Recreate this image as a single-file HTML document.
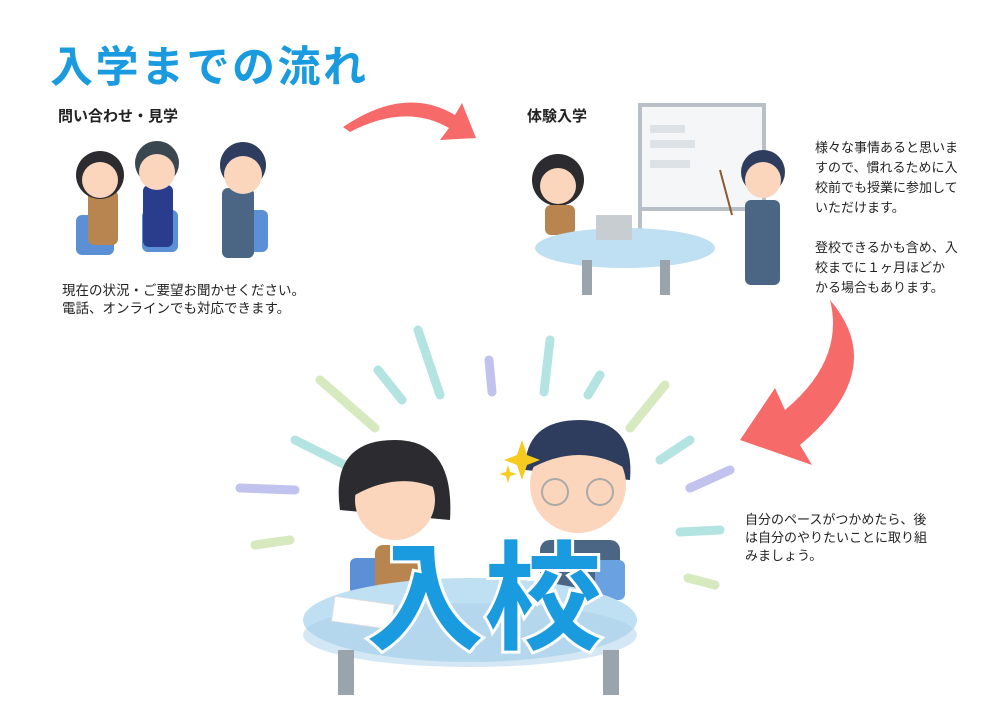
<!DOCTYPE html>
<html><head><meta charset="utf-8"><style>
html,body{margin:0;padding:0;background:#fff;width:1000px;height:707px;overflow:hidden}
.t{position:absolute;font-family:"Liberation Sans","Noto Sans CJK JP",sans-serif;color:#222;white-space:nowrap}
</style></head><body>
<svg width="1000" height="707" style="position:absolute;left:0;top:0">
<g stroke-linecap="round" stroke-width="9" opacity="0.85">
<line x1="418" y1="330" x2="440" y2="395" stroke="#a8e0dc"/>
<line x1="378" y1="370" x2="402" y2="400" stroke="#a8e0dc"/>
<line x1="320" y1="380" x2="375" y2="428" stroke="#cfe6b5"/>
<line x1="295" y1="440" x2="345" y2="465" stroke="#a8e0dc"/>
<line x1="240" y1="488" x2="295" y2="490" stroke="#b8b8ec"/>
<line x1="255" y1="545" x2="290" y2="540" stroke="#cfe6b5"/>
<line x1="489" y1="360" x2="492" y2="392" stroke="#b8b8ec"/>
<line x1="550" y1="340" x2="544" y2="392" stroke="#a8e0dc"/>
<line x1="600" y1="375" x2="588" y2="395" stroke="#a8e0dc"/>
<line x1="665" y1="385" x2="630" y2="428" stroke="#cfe6b5"/>
<line x1="690" y1="440" x2="660" y2="460" stroke="#a8e0dc"/>
<line x1="730" y1="470" x2="690" y2="488" stroke="#b8b8ec"/>
<line x1="720" y1="530" x2="680" y2="532" stroke="#a8e0dc"/>
<line x1="715" y1="585" x2="688" y2="578" stroke="#cfe6b5"/>
</g>
<path d="M343 127 Q405 85 455 115 L462 103 L476 138 L440 140 L449 128 Q405 103 350 132 Z" fill="#f76a6a"/>
<path d="M830 300 Q890 370 800 445 L812 465 L740 440 L775 388 L785 410 Q845 360 830 300 Z" fill="#f76a6a"/>
<g>
<rect x="76" y="215" width="38" height="40" rx="6" fill="#5b8fd6"/>
<rect x="142" y="210" width="36" height="42" rx="6" fill="#5b8fd6"/>
<rect x="230" y="210" width="38" height="42" rx="6" fill="#5b8fd6"/>
<rect x="88" y="190" width="30" height="55" rx="6" fill="#b88550"/>
<rect x="143" y="185" width="30" height="62" rx="6" fill="#2a3c8c"/>
<rect x="222" y="188" width="32" height="70" rx="6" fill="#4b6585"/>
<circle cx="100" cy="175" r="24" fill="#2b2b30"/><circle cx="100" cy="180" r="18" fill="#fbd6bd"/>
<circle cx="157" cy="163" r="22" fill="#3a4650"/><circle cx="157" cy="172" r="18" fill="#fbd6bd"/>
<circle cx="243" cy="165" r="23" fill="#2e3d5e"/><circle cx="243" cy="175" r="19" fill="#fbd6bd"/>
</g>
<g>
<rect x="640" y="105" width="124" height="104" fill="#f4f6f8" stroke="#b8bfc6" stroke-width="4"/>
<rect x="650" y="125" width="35" height="8" fill="#dde2e6"/><rect x="650" y="140" width="45" height="8" fill="#dde2e6"/><rect x="650" y="160" width="40" height="8" fill="#dde2e6"/>
<line x1="640" y1="209" x2="640" y2="265" stroke="#b8bfc6" stroke-width="4"/>
<circle cx="558" cy="180" r="26" fill="#2b2b30"/><circle cx="558" cy="186" r="18" fill="#fbd6bd"/>
<rect x="545" y="205" width="30" height="30" rx="6" fill="#b88550"/>
<ellipse cx="625" cy="248" rx="90" ry="20" fill="#bfdff2"/>
<rect x="582" y="260" width="10" height="35" fill="#9aa4ad"/><rect x="660" y="260" width="10" height="35" fill="#9aa4ad"/>
<rect x="596" y="215" width="36" height="25" fill="#c8cdd2"/>
<circle cx="763" cy="172" r="22" fill="#2e3d5e"/><circle cx="763" cy="180" r="18" fill="#fbd6bd"/>
<rect x="745" y="200" width="35" height="85" rx="6" fill="#4b6585"/>
<line x1="720" y1="170" x2="732" y2="215" stroke="#8b5a2b" stroke-width="2"/>
</g>
<g>
<path d="M340 510 Q330 440 395 440 Q455 440 450 520 Z" fill="#2b2b30"/>
<circle cx="395" cy="500" r="40" fill="#fbd6bd"/>
<path d="M355 495 Q365 445 405 450 Q440 460 440 490 Q400 470 355 495 Z" fill="#2b2b30"/>
<rect x="350" y="558" width="50" height="45" rx="6" fill="#5b8fd6"/>
<rect x="375" y="545" width="60" height="50" rx="8" fill="#b88550"/>
<path d="M525 470 Q525 420 580 420 Q635 420 630 480 Z" fill="#2e3d5e"/>
<circle cx="578" cy="485" r="48" fill="#fbd6bd"/>
<path d="M528 470 Q530 425 580 425 Q628 428 628 470 Q580 440 528 470 Z" fill="#2e3d5e"/>
<circle cx="555" cy="492" r="13" fill="none" stroke="#aaa" stroke-width="2"/><circle cx="600" cy="492" r="13" fill="none" stroke="#aaa" stroke-width="2"/>
<rect x="540" y="540" width="80" height="60" rx="10" fill="#4b6585"/>
<rect x="595" y="560" width="30" height="40" rx="6" fill="#6aa1e0"/>
<path d="M522 440 L527 455 L540 460 L527 465 L522 480 L517 465 L504 460 L517 455 Z" fill="#f7cb1e"/>
<path d="M508 465 L510 472 L517 474 L510 476 L508 483 L506 476 L499 474 L506 472 Z" fill="#f7cb1e"/>
<ellipse cx="470" cy="620" rx="167" ry="42" fill="#bfdff2"/>
<ellipse cx="470" cy="635" rx="167" ry="32" fill="#a9d0ea" opacity="0.5"/>
<rect x="338" y="650" width="16" height="45" fill="#9aa4ad"/><rect x="603" y="650" width="16" height="45" fill="#9aa4ad"/>
<rect x="333" y="600" width="60" height="25" fill="#fff" stroke="#ddd" transform="rotate(8 360 612)"/>
</g>
</svg>
<div class="t" style="left:50px;top:33px;font-size:43px;font-weight:bold;color:#1a9be0;letter-spacing:2.5px">入学までの流れ</div>
<div class="t" style="left:58px;top:105px;font-size:15px;font-weight:bold">問い合わせ・見学</div>
<div class="t" style="left:527px;top:105px;font-size:15px;font-weight:bold">体験入学</div>
<div class="t" style="left:62px;top:282px;font-size:13.5px;line-height:18px">現在の状況・ご要望お聞かせください。<br>電話、オンラインでも対応できます。</div>
<div class="t" style="left:815px;top:138px;font-size:13px;line-height:20px">様々な事情あると思いま<br>すので、慣れるために入<br>校前でも授業に参加して<br>いただけます。<br><br>登校できるかも含め、入<br>校までに１ヶ月ほどか<br>かる場合もあります。</div>
<div class="t" style="left:745px;top:511px;font-size:13px;line-height:18px">自分のペースがつかめたら、後<br>は自分のやりたいことに取り組<br>みましょう。</div>
<div class="t" style="left:366px;top:530px;font-size:118px;font-weight:bold;color:#1a9be0;-webkit-text-stroke:6px #fff;paint-order:stroke fill;line-height:140px">入校</div>
</body></html>
